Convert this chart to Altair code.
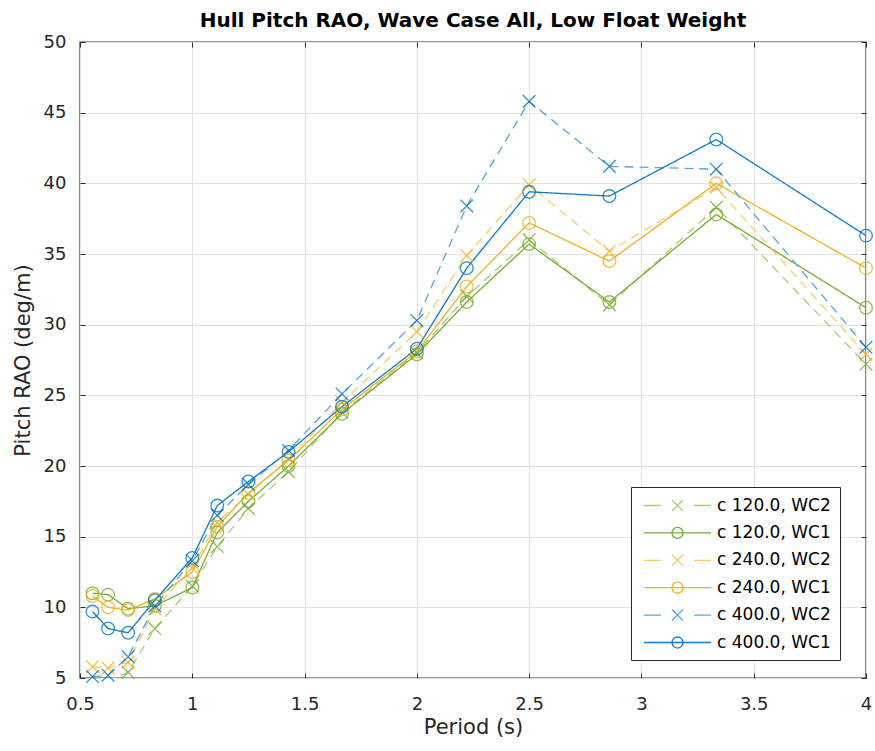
import altair as alt
import pandas as pd

# ---- data ----
periods = [0.5556, 0.625, 0.7143, 0.8333, 1.0, 1.1111, 1.25, 1.4286, 1.6667,
           2.0, 2.2222, 2.5, 2.8571, 3.3333, 4.0]

series_names = ["c 120.0, WC2", "c 120.0, WC1", "c 240.0, WC2",
                "c 240.0, WC1", "c 400.0, WC2", "c 400.0, WC1"]

c120_wc2 = [4.6, 4.8, 5.4, 8.5, 11.5, 14.3, 17.0, 19.6, 23.8, 28.0, 32.0, 36.0, 31.4, 38.3, 27.2]
c120_wc1 = [11.0, 10.9, 9.9, 10.1, 11.4, 15.3, 17.5, 20.0, 23.7, 27.9, 31.6, 35.7, 31.6, 37.8, 31.2]
c240_wc2 = [5.8, 5.7, 6.1, 9.9, 12.8, 16.0, 18.0, 20.5, 24.5, 29.5, 34.9, 39.9, 35.2, 39.7, 27.9]
c240_wc1 = [10.8, 10.0, 9.8, 10.6, 12.5, 15.7, 18.1, 20.4, 24.0, 28.1, 32.7, 37.2, 34.5, 40.0, 34.0]
c400_wc2 = [5.1, 5.2, 6.5, 10.1, 13.3, 16.5, 18.7, 21.1, 25.1, 30.3, 38.4, 45.8, 41.2, 41.0, 28.4]
c400_wc1 = [9.7, 8.5, 8.2, 10.5, 13.5, 17.2, 18.9, 21.0, 24.2, 28.3, 34.0, 39.4, 39.1, 43.1, 36.3]

x_ticks = [0.5, 1, 1.5, 2, 2.5, 3, 3.5, 4]
y_ticks = [5, 10, 15, 20, 25, 30, 35, 40, 45, 50]

# ---- styles ----
line_colors = ["#A7C978", "#77AC30", "#F3CC6E", "#EDB120", "#59A3D4", "#1279C2"]
marker_colors = ["#77AC30", "#77AC30", "#EDB120", "#EDB120", "#0072BD", "#0072BD"]
dashes = [[9, 6], [1, 0], [9, 6], [1, 0], [9, 6], [1, 0]]

X_PATH = "M-1,-1L1,1M-1,1L1,-1"
marker_shapes = [X_PATH, "circle", X_PATH, "circle", X_PATH, "circle"]

LEG_DASH_X = ("M-3.95,0H-1.95M1.95,0H3.95"
              "M-0.65,-0.65L0.65,0.65M-0.65,0.65L0.65,-0.65")
LEG_SOLID_O = ("M-3.95,0H3.95"
               "M0.65,0A0.65,0.65 0 1,1 -0.65,0A0.65,0.65 0 1,1 0.65,0")
legend_shapes = [LEG_DASH_X, LEG_SOLID_O, LEG_DASH_X, LEG_SOLID_O, LEG_DASH_X, LEG_SOLID_O]

values_by_series = [c120_wc2, c120_wc1, c240_wc2, c240_wc1, c400_wc2, c400_wc1]
rows = []
for name, vals in zip(series_names, values_by_series):
    for p, v in zip(periods, vals):
        rows.append({"period": p, "value": v, "series": name})
df = pd.DataFrame(rows)

FONT = "DejaVu Sans"
W, H = 786, 636

xscale = alt.Scale(domain=[0.5, 4], nice=False, zero=False)
yscale = alt.Scale(domain=[5, 50], nice=False, zero=False)

x_main = alt.Axis(orient="bottom", values=x_ticks, format="~g", grid=True, ticks=False,
                  tickSize=0, domain=False, labelPadding=31, labelBaseline="alphabetic",
                  labelFlush=False, title="Period (s)", titleBaseline="alphabetic", titleY=55)
y_main = alt.Axis(orient="left", values=y_ticks, grid=True, ticks=False, tickSize=0,
                  domain=False, labelPadding=14, labelFlush=False,
                  title="Pitch RAO (deg/m)", titleBaseline="alphabetic", titleX=-51,
                  titleY=H / 2, titleAngle=-90, titleAlign="center")

x_in_bottom = alt.Axis(orient="top", offset=-H, values=x_ticks, labels=False, grid=False,
                       domain=False, ticks=True, tickSize=5, title=None)
y_in_left = alt.Axis(orient="right", offset=-W, values=y_ticks, labels=False, grid=False,
                     domain=False, ticks=True, tickSize=5, title=None)
x_in_top = alt.Axis(orient="bottom", offset=-H, values=x_ticks, labels=False, grid=False,
                    domain=False, ticks=True, tickSize=5, title=None)
y_in_right = alt.Axis(orient="left", offset=-W, values=y_ticks, labels=False, grid=False,
                      domain=False, ticks=True, tickSize=5, title=None)

lines = alt.Chart(df).mark_line(strokeWidth=1.3, clip=True).encode(
    x=alt.X("period:Q", scale=xscale, axis=x_main),
    y=alt.Y("value:Q", scale=yscale, axis=y_main),
    color=alt.Color("series:N", scale=alt.Scale(domain=series_names, range=line_colors), legend=None),
    strokeDash=alt.StrokeDash("series:N", scale=alt.Scale(domain=series_names, range=dashes), legend=None),
)

points = alt.Chart(df).transform_filter("datum.value >= 5").mark_point(
    filled=False, size=160, strokeWidth=1.3, opacity=0.8
).encode(
    x=alt.X("period:Q", scale=xscale, axis=x_in_bottom),
    y=alt.Y("value:Q", scale=yscale, axis=y_in_left),
    color=alt.Color("series:N", scale=alt.Scale(domain=series_names, range=marker_colors), legend=None),
    shape=alt.Shape("series:N", scale=alt.Scale(domain=series_names, range=marker_shapes), legend=None),
)

leg = alt.Legend(title=None, orient="none", legendX=551, legendY=445, direction="vertical",
                 padding=9, rowPadding=9.4, labelFont=FONT, labelFontSize=17,
                 labelColor="#000000", labelLimit=400, symbolSize=289, symbolStrokeWidth=1.3,
                 symbolOffset=28, labelOffset=30, strokeColor="#262626", fillColor="white",
                 symbolOpacity=1)

legend_layer = alt.Chart(df).mark_point(filled=False, size=289, opacity=0).encode(
    x=alt.X("period:Q", scale=xscale, axis=x_in_top),
    y=alt.Y("value:Q", scale=yscale, axis=y_in_right),
    color=alt.Color("series:N", scale=alt.Scale(domain=series_names, range=line_colors), legend=leg),
    shape=alt.Shape("series:N", scale=alt.Scale(domain=series_names, range=legend_shapes), legend=leg),
)

chart = alt.layer(lines, points, legend_layer).resolve_scale(
    color="independent", shape="independent", strokeDash="independent"
).resolve_axis(x="independent", y="independent").properties(
    width=W, height=H,
    padding={"left": 80, "top": 42, "right": 9, "bottom": 73},
    autosize=alt.AutoSizeParams(type="none"),
    title=alt.Title("Hull Pitch RAO, Wave Case All, Low Float Weight", font=FONT, fontSize=20,
                    fontWeight="bold", color="#000000", anchor="middle", offset=14,
                    baseline="alphabetic", dy=28),
    background="white",
).configure_view(stroke="#333333", strokeWidth=1.4).configure_axis(
    labelFont=FONT, labelFontSize=18, labelColor="#262626",
    titleFont=FONT, titleFontSize=21, titleFontWeight="normal", titleColor="#262626",
    tickColor="#262626", tickWidth=1, gridColor="#e3e3e3", gridWidth=1,
)

chart.save("out.html", embed_options={"renderer": "svg", "actions": False})
